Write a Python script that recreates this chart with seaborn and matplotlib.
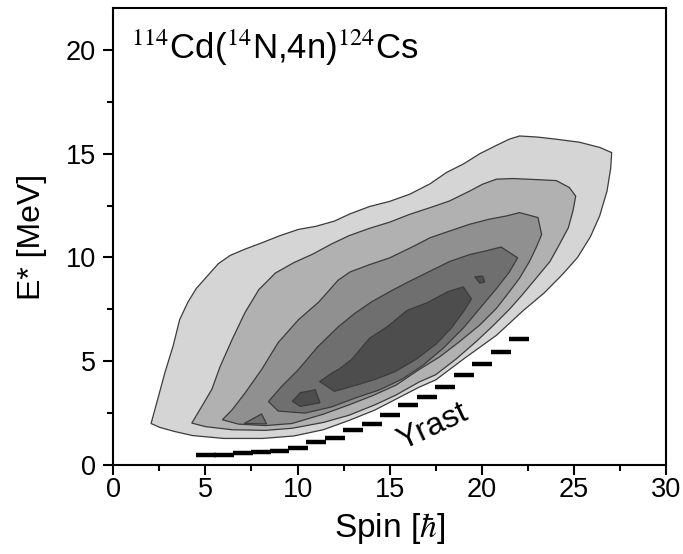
import numpy as np
import pandas as pd
import matplotlib
matplotlib.use("Agg")
import matplotlib.pyplot as plt
import seaborn as sns

# ---------------- data ----------------
# contour boundaries (spin, excitation energy), outermost level first
level1_spin = [2.05, 2.45, 2.8, 3.25, 3.6, 4.05, 4.5, 5.05, 5.7, 6.35, 7.15, 8.05, 9.05, 10.05, 11.0,
               12.0, 12.85, 13.9, 15.0, 16.1, 17.2, 18.1, 19.0, 19.9, 20.8, 21.5, 22.05, 23.0, 24.0,
               25.3, 26.4, 27.05, 27.0, 26.8, 26.4, 25.9, 25.2, 24.4, 23.4, 22.2, 20.8, 19.0, 17.5,
               16.6, 15.4, 14.2, 12.8, 11.4, 9.8, 8.1, 6.0, 4.3, 3.3, 2.5]
level1_energy = [2.0, 3.3, 4.45, 5.75, 7.0, 7.85, 8.5, 9.05, 9.7, 10.1, 10.4, 10.7, 11.05, 11.35, 11.5,
                 11.75, 12.1, 12.45, 12.7, 13.05, 13.55, 14.1, 14.5, 15.0, 15.4, 15.7, 15.85, 15.8, 15.7,
                 15.55, 15.3, 15.05, 14.3, 13.2, 12.0, 11.0, 10.0, 9.2, 8.3, 7.4, 6.25, 5.1, 4.1,
                 3.75, 3.2, 2.65, 2.15, 1.7, 1.4, 1.28, 1.28, 1.42, 1.62, 1.82]

level2_spin = [4.26, 4.8, 5.35, 5.8, 6.45, 7.15, 7.9, 8.8, 9.8, 10.8, 11.85, 12.8, 13.9, 15.0, 16.1,
               17.2, 18.25, 19.35, 20.05, 20.8, 21.7, 22.95, 24.05, 24.75, 25.1, 24.95, 24.7, 24.2,
               23.7, 22.95, 22.2, 21.5, 20.6, 19.7, 18.6, 17.5, 16.6, 15.3, 14.2, 12.8, 11.4, 9.7,
               8.25, 6.45, 5.0]
level2_energy = [2.02, 2.82, 3.65, 4.75, 6.05, 7.35, 8.45, 9.25, 9.75, 10.15, 10.65, 11.05, 11.4, 11.7,
                 12.08, 12.4, 12.72, 13.2, 13.53, 13.77, 13.8, 13.75, 13.7, 13.37, 12.95, 12.24, 11.43,
                 10.6, 9.8, 9.0, 8.2, 7.5, 6.7, 5.95, 5.1, 4.35, 4.0, 3.35, 2.9, 2.4, 2.05, 1.77,
                 1.67, 1.7, 1.85]

level3_spin = [5.92, 6.45, 7.15, 8.05, 8.95, 10.05, 11.15, 12.2, 12.85, 13.9, 15.0, 16.1, 17.2, 18.25,
               19.35, 20.4, 21.35, 22.05, 23.05, 23.25, 22.95, 22.6, 22.05, 21.5, 20.8, 19.9, 18.8,
               17.7, 16.6, 15.35, 14.1, 12.8, 11.4, 9.7, 8.25, 6.8]
level3_energy = [2.18, 2.66, 3.47, 4.6, 5.9, 7.0, 7.85, 8.9, 9.3, 9.65, 9.98, 10.45, 10.95, 11.27,
                 11.6, 11.84, 12.0, 12.16, 11.92, 11.1, 10.47, 9.82, 9.0, 8.35, 7.55, 6.75, 5.95,
                 5.2, 4.6, 3.85, 3.35, 2.9, 2.45, 2.0, 1.9, 1.97]

level4_spin = [8.42, 9.15, 10.05, 11.1, 12.2, 13.1, 14.0, 15.0, 16.1, 17.2, 18.25, 19.35, 20.25, 21.05,
               21.95, 21.5, 20.8, 19.9, 19.0, 17.9, 16.8, 15.7, 14.45, 13.2, 11.85, 10.4, 8.95]
level4_energy = [3.06, 3.8, 4.6, 5.7, 6.65, 7.3, 7.85, 8.35, 8.86, 9.34, 9.8, 10.14, 10.32, 10.5,
                 9.98, 9.3, 8.5, 7.55, 6.6, 5.62, 4.8, 4.15, 3.62, 3.25, 2.8, 2.5, 2.6]

level5_spin = [11.2, 11.9, 12.3, 12.95, 13.9, 14.85, 15.95, 17.05, 18.15, 19.0, 19.44, 19.0, 18.35,
               17.55, 16.45, 15.3, 14.2, 13.2, 12.0]
level5_energy = [4.02, 4.45, 4.65, 5.1, 6.1, 6.65, 7.45, 7.82, 8.35, 8.58, 8.0, 7.38, 6.6,
                 5.85, 5.1, 4.5, 4.12, 3.85, 3.55]

# small islands of the next-higher level
island_a_spin = [7.1, 8.05, 8.32]
island_a_energy = [2.0, 2.46, 1.98]
island_b_spin = [9.72, 10.15, 10.96, 11.22, 10.15]
island_b_energy = [3.07, 3.48, 3.63, 3.0, 2.82]
island_c_spin = [19.62, 20.04, 20.16, 19.9]
island_c_energy = [9.07, 9.1, 8.82, 8.76]

# yrast line: spin and energy of each level
yrast_spin = [5, 6, 7, 8, 9, 10, 11, 12, 13, 14, 15, 16, 17, 18, 19, 20, 21, 22]
yrast_energy = [0.46, 0.5, 0.58, 0.62, 0.69, 0.84, 1.13, 1.32, 1.7, 2.0, 2.42, 2.87, 3.3, 3.78,
                4.35, 4.88, 5.44, 6.07]

level_colors = ["#d5d5d5", "#b1b1b1", "#909090", "#6f6f6f", "#4d4d4d"]
x_ticks = [0, 5, 10, 15, 20, 25, 30]
y_ticks = [0, 5, 10, 15, 20]

# ---------------- style ----------------
sns.set_theme(style="ticks")
plt.rcParams["font.family"] = ["Liberation Sans", "DejaVu Sans"]
plt.rcParams["mathtext.fontset"] = "stix"
plt.rcParams["text.color"] = "black"
plt.rcParams["axes.labelcolor"] = "black"
plt.rcParams["xtick.color"] = "black"
plt.rcParams["ytick.color"] = "black"
plt.rcParams["axes.edgecolor"] = "black"

fig = plt.figure(figsize=(6.83, 5.54), dpi=100)
ax = fig.add_axes([0.1659, 0.1606, 0.8092, 0.8244])

levels = [(level1_spin, level1_energy), (level2_spin, level2_energy), (level3_spin, level3_energy),
          (level4_spin, level4_energy), (level5_spin, level5_energy)]
for (xs, ys), col in zip(levels, level_colors):
    ax.fill(xs, ys, facecolor=col, edgecolor="#3c3c3c", linewidth=0.9, zorder=2)

for xs, ys, lv in [(island_a_spin, island_a_energy, 3), (island_b_spin, island_b_energy, 4),
                   (island_c_spin, island_c_energy, 4)]:
    ax.fill(xs, ys, facecolor=level_colors[lv], edgecolor="#3c3c3c", linewidth=0.9, zorder=3)

yr = pd.DataFrame({"spin": yrast_spin, "energy": yrast_energy})
ax.hlines(yr["energy"], yr["spin"] - 0.52, yr["spin"] + 0.56, colors="black", linewidth=3.2, zorder=4)

ax.text(17.35, 1.85, "Yrast", rotation=25, fontsize=23, ha="center", va="center",
        color="black", zorder=5)
ax.text(0.95, 19.55, r"$^{114}$Cd($^{14}$N,4n)$^{124}$Cs", fontsize=25, ha="left", va="baseline",
        color="black", zorder=5)

ax.set_xlim(0, 30)
ax.set_ylim(0, 22)
ax.set_xticks(x_ticks)
ax.set_yticks(y_ticks)
ax.set_xticks(np.arange(2.5, 30, 5), minor=True)
ax.set_yticks(np.arange(2.5, 22, 5), minor=True)
ax.tick_params(which="major", direction="out", length=7, width=1.5, labelsize=19.5,
               top=False, right=False, colors="black")
ax.tick_params(axis="x", which="major", pad=1.5)
ax.tick_params(axis="y", which="major", pad=5.5)
ax.tick_params(which="minor", direction="out", length=4, width=1.5, top=False, right=False,
               colors="black")
for sp in ax.spines.values():
    sp.set_linewidth(1.5)
    sp.set_color("black")
    sp.set_visible(True)

ax.set_xlabel(r"Spin [$\hbar$]", fontsize=24, va="center", color="black")
ax.set_ylabel("E* [MeV]", fontsize=23, va="center", color="black")
ax.xaxis.set_label_coords(0.5, -0.14)
ax.yaxis.set_label_coords(-0.1476, 0.5)
ax.set_facecolor("white")

fig.savefig("out.png", dpi=100, facecolor="white")
